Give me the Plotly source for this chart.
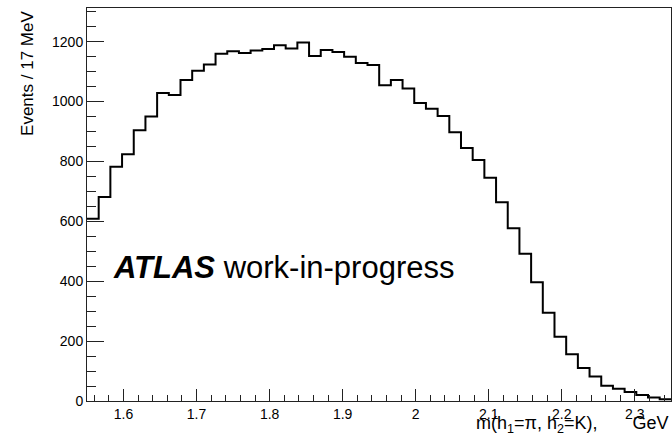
import numpy as np
import plotly.graph_objects as go

# Invariant-mass histogram, 50 bins between 1.55 and 2.35 GeV
x_lo, x_hi, n_bins = 1.55, 2.35, 50
counts = [609, 681, 782, 824, 904, 950, 1029, 1022, 1072, 1103,
          1124, 1160, 1168, 1162, 1171, 1176, 1188, 1177, 1197, 1152,
          1172, 1166, 1150, 1129, 1122, 1055, 1072, 1044, 995, 976,
          952, 898, 845, 805, 746, 664, 577, 492, 397, 295,
          215, 156, 110, 82, 51, 41, 30, 20, 12, 6]
x_ticks = [1.6, 1.7, 1.8, 1.9, 2.0, 2.1, 2.2, 2.3]
y_ticks = [0, 200, 400, 600, 800, 1000, 1200]

edges = np.linspace(x_lo, x_hi, n_bins + 1)
step_y = counts + [counts[-1]]

FONT = "Liberation Sans, Arial, Helvetica, sans-serif"
NB = "\u00a0"

fig = go.Figure()
fig.add_trace(go.Scatter(
    x=edges, y=step_y, mode="lines", line_shape="hv",
    line=dict(color="black", width=2), showlegend=False, hoverinfo="skip",
))

axis_common = dict(
    showgrid=False, zeroline=False, showline=True, linecolor="#222",
    linewidth=1, mirror=True, ticks="inside", tickcolor="#222",
    tickfont=dict(family=FONT, size=14, color="black"),
)

fig.update_xaxes(
    range=[x_lo, x_hi - 0.0005], tickvals=x_ticks,
    ticktext=[f"{v:g}" for v in x_ticks], ticklen=12,
    minor=dict(ticks="inside", ticklen=6, dtick=0.02, tick0=1.5,
               tickcolor="#222", showgrid=False),
    **axis_common,
)
fig.update_yaxes(
    range=[0, 1312.6], tickvals=y_ticks,
    ticktext=[str(v) for v in y_ticks], ticklen=17,
    minor=dict(ticks="inside", ticklen=9, dtick=50, tick0=0,
               tickcolor="#222", showgrid=False),
    **axis_common,
)

fig.add_annotation(
    text="<b><i>ATLAS</i></b> work-in-progress",
    xref="paper", yref="paper", x=(111 - 87) / 583.5, y=(401 - 268) / 393,
    xanchor="left", yanchor="middle", showarrow=False,
    font=dict(family=FONT, size=31, color="black"),
)
fig.add_annotation(
    text="m(h<sub>1</sub>=π, h<sub>2</sub>=K)," + NB * 6 + " GeV",
    xref="paper", yref="paper", x=1.0, y=-(411 - 401) / 393,
    xanchor="right", yanchor="top", showarrow=False,
    font=dict(family=FONT, size=18, color="black"),
)
fig.add_annotation(
    text="Events / 17 MeV", textangle=-90,
    xref="paper", yref="paper", x=(16 - 87) / 583.5, y=1.0 - 1.0 / 393,
    xanchor="left", yanchor="top", showarrow=False,
    font=dict(family=FONT, size=17, color="black"),
)

fig.update_layout(
    width=672, height=444,
    margin=dict(l=87, r=1, t=8, b=43),
    paper_bgcolor="white", plot_bgcolor="white",
    font=dict(family=FONT, color="black"),
)

fig.write_html("out.html")
